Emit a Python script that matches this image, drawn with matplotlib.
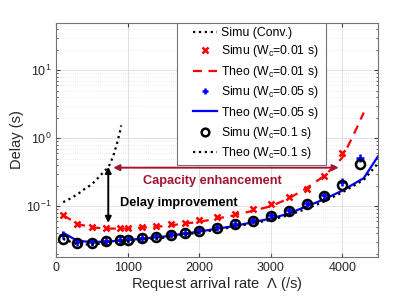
import numpy as np
import matplotlib
matplotlib.use("Agg")
import matplotlib.pyplot as plt
from matplotlib.patches import Rectangle
from matplotlib.ticker import LogLocator, NullFormatter

plt.rcParams["font.family"] = ["Liberation Sans", "DejaVu Sans"]
plt.rcParams["mathtext.fontset"] = "custom"
plt.rcParams["mathtext.rm"] = "Liberation Sans"
plt.rcParams["mathtext.default"] = "regular"

# -------------------------------
# data
# -------------------------------

# conventional scheme, simulation
conv_x = [100, 200, 300, 400, 500, 600, 700, 750, 800, 850, 900, 910]
conv_y = [0.115, 0.13, 0.15, 0.18, 0.21, 0.27, 0.35, 0.41, 0.55, 0.82, 1.35, 1.55]

# simulation points
sim_x = [100, 300, 500, 700, 900, 1000, 1200, 1400, 1600, 1800, 2000,
         2250, 2500, 2750, 3000, 3250, 3500, 3750, 4000, 4250]
sim_001 = [0.0755, 0.0557, 0.0495, 0.048, 0.048, 0.048, 0.049, 0.052, 0.054, 0.057, 0.062,
           0.069, 0.078, 0.092, 0.108, 0.136, 0.18, 0.28, 0.61]
sim_005 = [0.038, 0.030, 0.0295, 0.0305, 0.0318, 0.0326, 0.0342, 0.0362, 0.0385, 0.041, 0.0445,
           0.049, 0.055, 0.063, 0.074, 0.088, 0.11, 0.145, 0.23, 0.51]
sim_01 = [0.0328, 0.0288, 0.0292, 0.0304, 0.0316, 0.0324, 0.034, 0.0358, 0.038, 0.0406, 0.044,
          0.048, 0.054, 0.0616, 0.0723, 0.0865, 0.108, 0.14, 0.206, 0.42]

# theory curves
theo001_x = [100, 300, 500, 700, 1000, 1500, 2000, 2500, 3000, 3250, 3500, 3750, 3900, 4000, 4100, 4200, 4300]
theo001_y = [0.074, 0.055, 0.049, 0.047, 0.047, 0.051, 0.059, 0.074, 0.1, 0.13, 0.185, 0.28, 0.4, 0.52, 0.85, 1.4, 2.4]

theo_x = [100, 300, 500, 700, 1000, 1500, 2000, 2500, 3000, 3250, 3500, 3750, 4000, 4300, 4500]
theo005_y = [0.0406, 0.031, 0.0298, 0.0302, 0.0318, 0.0358, 0.0425, 0.0515, 0.066, 0.078, 0.1, 0.127, 0.17, 0.26, 0.545]
theo01_y = [0.033, 0.0275, 0.0275, 0.0285, 0.0305, 0.0345, 0.041, 0.05, 0.063, 0.074, 0.092, 0.118, 0.16, 0.245, 0.43]

RED = "#FF0000"
BLUE = "#0000FF"
DARKRED = "#A2142F"

# -------------------------------
# plot
# -------------------------------

fig = plt.figure(figsize=(4.15, 2.97), dpi=100)
ax = fig.add_axes([0.135, 0.135, 0.776, 0.788])

ax.plot(conv_x, conv_y, ":", color="k", lw=1.6, label="Simu (Conv.)")
ax.plot(sim_x[:len(sim_001)], sim_001, "x", color=RED, ms=5, mew=1.8, ls="none",
        label=r"Simu (W$_\mathrm{c}$=0.01 s)")
ax.plot(theo001_x, theo001_y, "--", color=RED, lw=1.6, dashes=(4, 3),
        label=r"Theo (W$_\mathrm{c}$=0.01 s)")
ax.plot(sim_x, sim_005, "+", color=BLUE, ms=5.5, mew=1.8, ls="none",
        label=r"Simu (W$_\mathrm{c}$=0.05 s)")
ax.plot(theo_x, theo005_y, "-", color=BLUE, lw=1.6,
        label=r"Theo (W$_\mathrm{c}$=0.05 s)")
ax.plot(sim_x, sim_01, "o", color="k", mfc="none", ms=6.5, mew=1.8, ls="none",
        label=r"Simu (W$_\mathrm{c}$=0.1 s)")
ax.plot(theo_x, theo01_y, ":", color="k", lw=1.6,
        label=r"Theo (W$_\mathrm{c}$=0.1 s)")

# annotations
ax.annotate("", xy=(730, 0.057), xytext=(730, 0.38),
            arrowprops=dict(arrowstyle="<|-|>", color="k", lw=1.4,
                            mutation_scale=9, shrinkA=0, shrinkB=0))
ax.annotate("", xy=(800, 0.37), xytext=(3950, 0.37),
            arrowprops=dict(arrowstyle="<|-|>", color=DARKRED, lw=1.4,
                            mutation_scale=9, shrinkA=0, shrinkB=0))
ax.text(2190, 0.235, "Capacity enhancement", color=DARKRED, fontsize=9.2,
        fontweight="bold", ha="center", va="center")
ax.text(1720, 0.112, "Delay improvement", color="k", fontsize=9.2,
        fontweight="bold", ha="center", va="center")

ax.set_yscale("log")
ax.set_xlim(0, 4500)
ax.set_ylim(0.018, 50)
ax.set_xticks([0, 1000, 2000, 3000, 4000])
ax.yaxis.set_major_locator(LogLocator(base=10, numticks=10))
ax.yaxis.set_minor_locator(LogLocator(base=10, subs=np.arange(2, 10), numticks=20))
ax.yaxis.set_minor_formatter(NullFormatter())

ax.grid(True, which="major", color="#dcdcdc", lw=0.6)
ax.grid(True, which="minor", axis="y", color="#d9d9d9", lw=0.5, ls=(0, (1, 2)))
ax.set_axisbelow(True)

ax.tick_params(which="both", direction="in", top=True, right=True,
               labelsize=9, colors="0.25", labelcolor="0.15")
ax.tick_params(which="major", length=3)
ax.tick_params(which="minor", length=1.5)
for s in ax.spines.values():
    s.set_color("0.45")
    s.set_linewidth(0.8)

ax.set_xlabel(r"Request arrival rate  $\Lambda$ (/s)", fontsize=10.5, color="0.15", labelpad=1)
ax.set_ylabel("Delay (s)", fontsize=10.5, color="0.15", labelpad=1)

# legend box drawn MATLAB-style (wide side padding)
box = Rectangle((0.376, 0.393), 0.4625, 0.607, transform=ax.transAxes,
                facecolor="white", edgecolor="0.45", lw=0.8, zorder=5)
ax.add_patch(box)
leg = ax.legend(loc="upper left", bbox_to_anchor=(0.425, 0.982), borderaxespad=0,
                fontsize=8.8, handlelength=2.0, handletextpad=0.3,
                labelspacing=0.36, borderpad=0, markerscale=0.85,
                frameon=False)
leg.set_zorder(6)

fig.savefig("out.png", dpi=100)
